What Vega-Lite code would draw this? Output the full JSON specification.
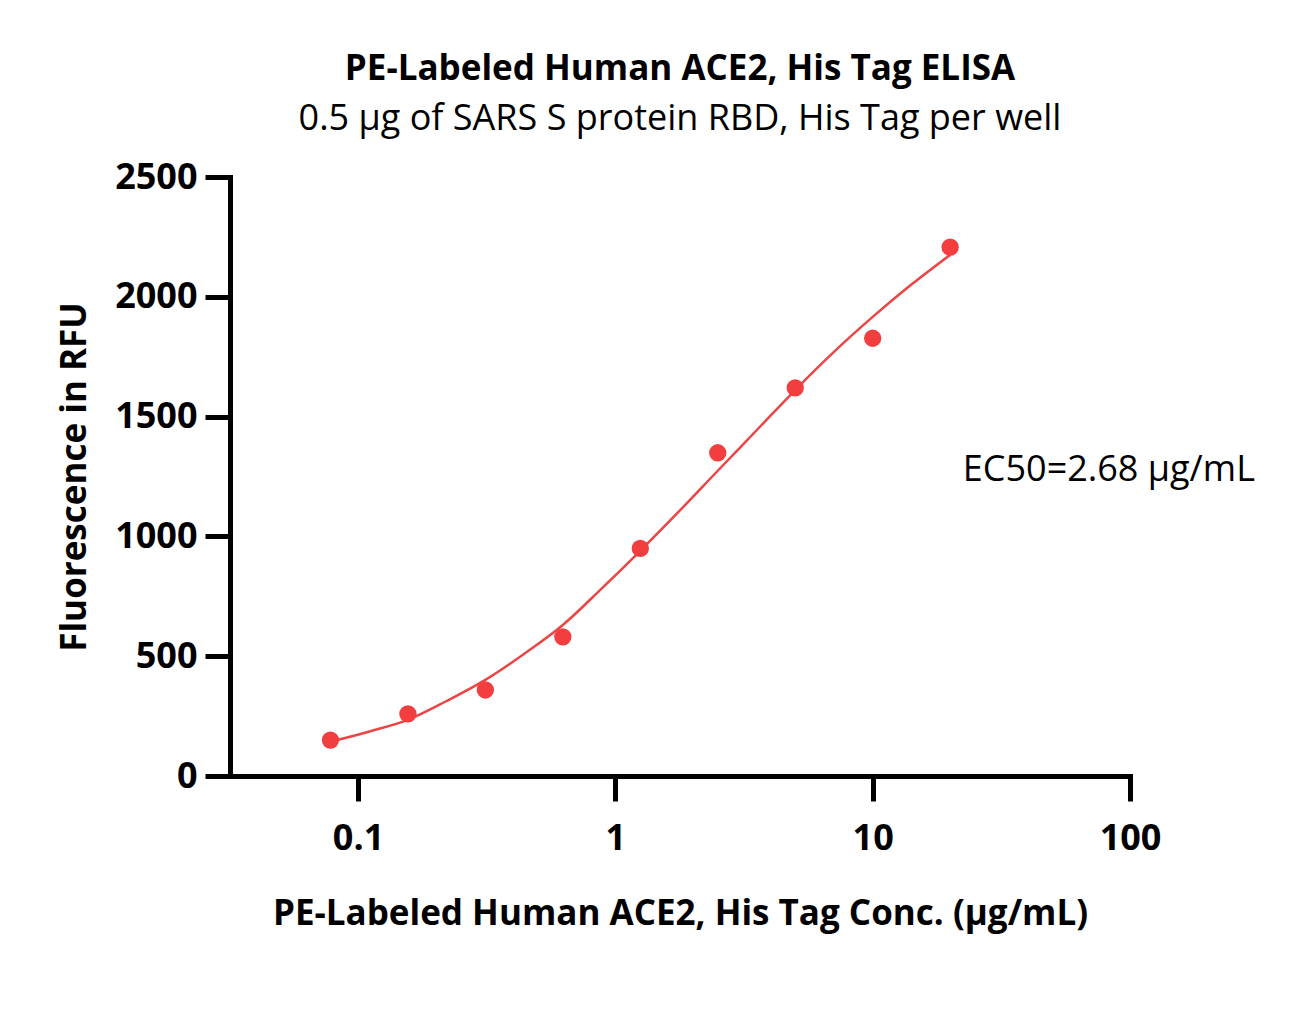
{
  "$schema": "https://vega.github.io/schema/vega-lite/v6.json",
  "width": 900,
  "height": 599,
  "autosize": {"type": "none"},
  "padding": {"left": 230, "top": 177, "right": 174, "bottom": 255},
  "background": "white",
  "config": {
    "view": {"stroke": null},
    "font": "Open Sans",
    "axis": {
      "grid": false,
      "domainColor": "black",
      "domainWidth": 5,
      "domainCap": "square",
      "tickColor": "black",
      "tickWidth": 5,
      "tickSize": 25,
      "labelFont": "Open Sans",
      "labelFontSize": 36,
      "labelFontWeight": "bold",
      "labelColor": "black",
      "labelFlush": false,
      "labelOverlap": false,
      "titleFont": "Open Sans",
      "titleFontSize": 35,
      "titleFontWeight": "bold",
      "titleColor": "black"
    }
  },
  "title": {
    "text": "PE-Labeled Human ACE2, His Tag ELISA",
    "subtitle": "0.5 μg of SARS S protein RBD, His Tag per well",
    "font": "Open Sans",
    "fontSize": 35,
    "fontWeight": "bold",
    "color": "black",
    "subtitleFont": "Open Sans",
    "subtitleFontSize": 36,
    "subtitleFontWeight": "normal",
    "subtitleColor": "black",
    "subtitlePadding": 15,
    "anchor": "middle",
    "frame": "group",
    "offset": 22
  },
  "datasets": {
    "points": [
      {"conc": 0.078125, "rfu": 150},
      {"conc": 0.15625, "rfu": 259},
      {"conc": 0.3125, "rfu": 359},
      {"conc": 0.625, "rfu": 581},
      {"conc": 1.25, "rfu": 950},
      {"conc": 2.5, "rfu": 1349},
      {"conc": 5, "rfu": 1620},
      {"conc": 10, "rfu": 1827},
      {"conc": 20, "rfu": 2207}
    ],
    "curve": [
      {"conc": 0.078, "rfu": 143},
      {"conc": 0.11, "rfu": 185},
      {"conc": 0.156, "rfu": 234},
      {"conc": 0.22, "rfu": 312},
      {"conc": 0.3125, "rfu": 401},
      {"conc": 0.44, "rfu": 508},
      {"conc": 0.625, "rfu": 630},
      {"conc": 0.88, "rfu": 780},
      {"conc": 1.25, "rfu": 940},
      {"conc": 1.77, "rfu": 1105},
      {"conc": 2.5, "rfu": 1274},
      {"conc": 3.54, "rfu": 1443},
      {"conc": 5, "rfu": 1611},
      {"conc": 7.07, "rfu": 1770},
      {"conc": 10, "rfu": 1916},
      {"conc": 14.1, "rfu": 2050},
      {"conc": 20, "rfu": 2175}
    ]
  },
  "layer": [
    {
      "data": {"name": "curve"},
      "mark": {"type": "line", "color": "#EC4545", "strokeWidth": 2.5, "interpolate": "monotone"},
      "encoding": {
        "x": {
          "field": "conc",
          "type": "quantitative",
          "scale": {"type": "log", "domain": [0.0318, 100], "nice": false},
          "axis": {
            "values": [0.1, 1, 10, 100],
            "format": "~g",
            "labelPadding": 20,
            "title": "PE-Labeled Human ACE2, His Tag Conc. (μg/mL)",
            "titlePadding": 40
          }
        },
        "y": {
          "field": "rfu",
          "type": "quantitative",
          "scale": {"domain": [0, 2500], "nice": false},
          "axis": {
            "values": [0, 500, 1000, 1500, 2000, 2500],
            "format": "d",
            "labelPadding": 8,
            "title": "Fluorescence in RFU",
            "titlePadding": 22
          }
        }
      }
    },
    {
      "data": {"name": "points"},
      "mark": {"type": "point", "filled": true, "opacity": 1, "color": "#F23E3E", "size": 300},
      "encoding": {
        "x": {"field": "conc", "type": "quantitative"},
        "y": {"field": "rfu", "type": "quantitative"}
      }
    },
    {
      "data": {"values": [{"label": "EC50=2.68 μg/mL"}]},
      "mark": {"type": "text", "align": "left", "baseline": "middle", "font": "Open Sans", "fontSize": 36, "color": "black"},
      "encoding": {
        "x": {"datum": 22.4, "type": "quantitative"},
        "y": {"datum": 1277, "type": "quantitative"},
        "text": {"field": "label"}
      }
    }
  ]
}
